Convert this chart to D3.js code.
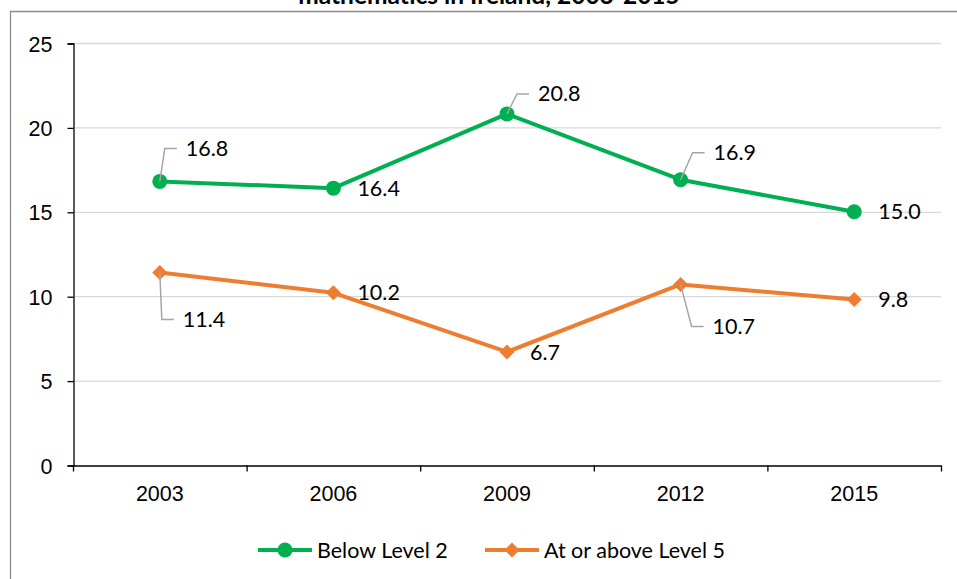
<!DOCTYPE html>
<html>
<head>
<meta charset="utf-8">
<script src="https://cdn.jsdelivr.net/npm/d3@7"></script>
<style>
  body { margin: 0; background: #fff; }
  svg { display: block; font-family: Lato, "Open Sans", sans-serif; }
  .grid line { stroke: #d9d9d9; stroke-width: 1.3; }
  .axis path, .axis line { stroke: #000; stroke-width: 1.3; }
  .axis text { font-size: 21.5px; fill: #000; }
  .lbl { font-size: 21.5px; fill: #000; }
  .leader { stroke: #a6a6a6; stroke-width: 1.5; fill: none; }
</style>
</head>
<body>
<script>
//chart values
var years = ["2003", "2006", "2009", "2012", "2015"];
var belowLevel2 = [16.8, 16.4, 20.8, 16.9, 15.0];
var atOrAboveLevel5 = [11.4, 10.2, 6.7, 10.7, 9.8];
var yTicks = [0, 5, 10, 15, 20, 25];
var seriesNames = ["Below Level 2", "At or above Level 5"];

//label placement (offset of label text from its point, in px)
var greenLabelOffsets = [[26, -33, true], [24, 0, false], [31, -20, true], [33, -27, true], [24, 0, false]];
var orangeLabelOffsets = [[23, 47, true], [24, 0, false], [23, 1, false], [32, 42, true], [24, 0, false]];

window.onload = drawChart();

function drawChart(){

    var width = 957,
        height = 579;

    var svg = d3.select("body")
        .append("svg")
        .attr("width", width)
        .attr("height", height);

    //scales
    var x = d3.scaleBand()
        .domain(years)
        .range([73, 941]);

    var y = d3.scaleLinear()
        .domain([0, 25])
        .range([465, 43]);

    //outer frame (only top and left edges are in view)
    svg.append("path")
        .attr("d", "M10.5,579V11.5H957")
        .attr("fill", "none")
        .attr("stroke", "#8c8c8c")
        .attr("stroke-width", 1.3);

    //title, mostly cut off at the top
    svg.append("text")
        .attr("x", 489)
        .attr("y", 4)
        .attr("text-anchor", "middle")
        .style("font-size", "24.5px")
        .style("font-weight", "bold")
        .text("mathematics in Ireland, 2003-2015");

    //gridlines
    svg.append("g")
        .attr("class", "grid")
        .selectAll("line")
        .data(yTicks.slice(1))
        .enter()
        .append("line")
        .attr("x1", 73)
        .attr("x2", 941)
        .attr("y1", function(d){ return y(d) + 0.5; })
        .attr("y2", function(d){ return y(d) + 0.5; });

    //y axis
    var yAxis = svg.append("g")
        .attr("class", "axis")
        .attr("transform", "translate(73.5,0.5)")
        .call(d3.axisLeft(y).tickValues(yTicks).tickSize(6).tickSizeOuter(6).tickPadding(15));
    yAxis.selectAll("text").attr("dy", "0.35em");

    //x axis, ticks sit between categories
    var xAxis = svg.append("g")
        .attr("class", "axis")
        .attr("transform", "translate(0," + (y(0) + 0.5) + ")")
        .call(d3.axisBottom(x).tickSize(0).tickSizeOuter(0).tickPadding(20));

    var bounds = years.map(function(d){ return x(d); }).concat([x.range()[1]]);
    xAxis.selectAll(".bound")
        .data(bounds)
        .enter()
        .append("line")
        .attr("class", "bound")
        .attr("x1", function(d){ return d + 0.5; })
        .attr("x2", function(d){ return d + 0.5; })
        .attr("y1", 0)
        .attr("y2", 6);

    var cx = function(i){ return x(years[i]) + x.bandwidth() / 2; };

    var line = d3.line()
        .x(function(d, i){ return cx(i); })
        .y(function(d){ return y(d); });

    var series = [
        {values: belowLevel2, color: "#00b050", marker: "circle", offsets: greenLabelOffsets},
        {values: atOrAboveLevel5, color: "#ed7d31", marker: "diamond", offsets: orangeLabelOffsets}
    ];

    function marker(g, type, color, mx, my){
        if (type === "circle"){
            g.append("circle")
                .attr("cx", mx)
                .attr("cy", my)
                .attr("r", 7.5)
                .attr("fill", color);
        } else {
            var s = 7.5;
            g.append("path")
                .attr("d", "M" + mx + "," + (my - s) + "L" + (mx + s) + "," + my + "L" + mx + "," + (my + s) + "L" + (mx - s) + "," + my + "Z")
                .attr("fill", color);
        }
    }

    series.forEach(function(s){
        var g = svg.append("g");

        g.append("path")
            .datum(s.values)
            .attr("d", line)
            .attr("fill", "none")
            .attr("stroke", s.color)
            .attr("stroke-width", 4)
            .attr("stroke-linejoin", "round");

        s.values.forEach(function(v, i){
            marker(g, s.marker, s.color, cx(i), y(v));
        });

        //data labels
        s.values.forEach(function(v, i){
            var px = cx(i), py = y(v),
                o = s.offsets[i],
                tx = px + o[0], ty = py + o[1];
            if (o[2]){
                g.append("path")
                    .attr("class", "leader")
                    .attr("d", "M" + px + "," + py + "L" + (tx - 21) + "," + ty + "L" + (tx - 9) + "," + ty);
            }
            g.append("text")
                .attr("class", "lbl")
                .attr("x", tx)
                .attr("y", ty)
                .attr("dy", "0.35em")
                .text(v.toFixed(1));
        });
    });

    //legend
    var legendItems = [
        {name: seriesNames[0], color: "#00b050", marker: "circle", x: 258},
        {name: seriesNames[1], color: "#ed7d31", marker: "diamond", x: 485}
    ];
    var lg = svg.append("g");
    legendItems.forEach(function(d){
        lg.append("line")
            .attr("x1", d.x)
            .attr("x2", d.x + 54)
            .attr("y1", 550)
            .attr("y2", 550)
            .attr("stroke", d.color)
            .attr("stroke-width", 4);
        marker(lg, d.marker, d.color, d.x + 27, 550);
        lg.append("text")
            .attr("class", "lbl")
            .attr("x", d.x + 59)
            .attr("y", 550)
            .attr("dy", "0.35em")
            .text(d.name);
    });
};
</script>
</body>
</html>
